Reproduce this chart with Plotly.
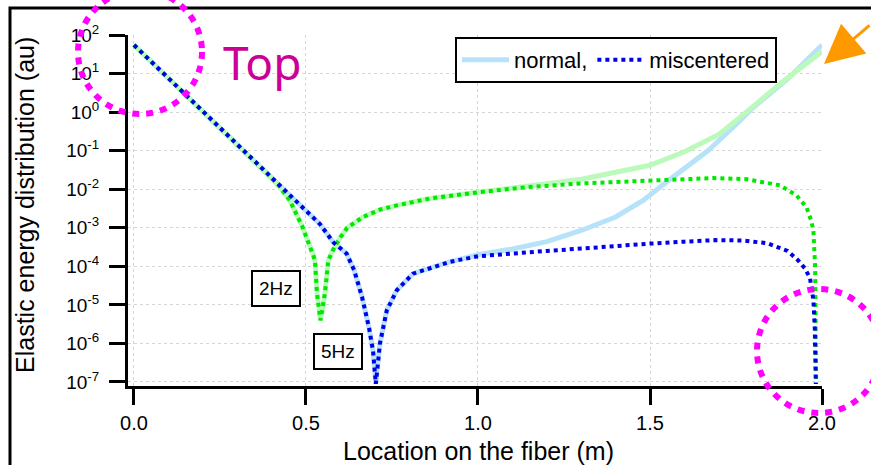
import numpy as np
import plotly.graph_objects as go

# ---- data (y stored as log10 exponents) ----
x_blue_mis = [0.0, 0.1, 0.2, 0.3, 0.4, 0.48, 0.54, 0.58, 0.618, 0.64, 0.663, 0.683, 0.695, 0.703,
              0.71, 0.715, 0.735, 0.764, 0.811, 0.86, 0.92, 1.0, 1.1, 1.2, 1.3, 1.4, 1.5, 1.6,
              1.69, 1.77, 1.84, 1.9, 1.93, 1.95, 1.965, 1.975, 1.979, 1.982]
y_blue_mis_log = [1.74, 0.88, 0.03, -0.83, -1.68, -2.36, -2.90, -3.38, -3.67, -4.10, -4.80, -5.58, -6.20, -7.05,
                  -6.30, -6.00, -5.14, -4.62, -4.19, -4.04, -3.88, -3.74, -3.66, -3.60, -3.54, -3.47, -3.41, -3.36,
                  -3.32, -3.33, -3.40, -3.60, -3.84, -4.05, -4.30, -4.88, -5.6, -7.05]

x_green_mis = [0.0, 0.1, 0.2, 0.3, 0.38, 0.42, 0.453, 0.49, 0.515, 0.526, 0.532, 0.538, 0.542, 0.548,
               0.555, 0.565, 0.58, 0.6, 0.62, 0.666, 0.715, 0.764, 0.86, 1.0, 1.14, 1.3, 1.5, 1.6,
               1.684, 1.78, 1.878, 1.926, 1.955, 1.968, 1.975, 1.98, 1.983]
y_green_mis_log = [1.74, 0.88, 0.03, -0.83, -1.52, -1.90, -2.29, -2.98, -3.55, -3.84, -4.70, -5.10, -5.40, -5.10,
                   -4.70, -3.84, -3.55, -3.25, -3.00, -2.72, -2.53, -2.42, -2.24, -2.08, -1.95, -1.85, -1.77, -1.73,
                   -1.71, -1.74, -1.90, -2.16, -2.47, -2.80, -3.07, -4.03, -7.05]

x_blue_norm = [0.0, 0.1, 0.2, 0.3, 0.4, 0.48, 0.54, 0.58, 0.618, 0.64, 0.663, 0.683, 0.695, 0.703,
               0.71, 0.715, 0.735, 0.764, 0.811, 0.86, 0.92, 1.0, 1.1, 1.2, 1.3, 1.4, 1.48, 1.55,
               1.6, 1.67, 1.75, 1.8, 1.9, 2.0]
y_blue_norm_log = [1.74, 0.88, 0.03, -0.83, -1.68, -2.36, -2.90, -3.38, -3.67, -4.10, -4.80, -5.58, -6.20, -7.05,
                   -6.30, -6.00, -5.14, -4.62, -4.19, -4.04, -3.88, -3.70, -3.55, -3.36, -3.07, -2.72, -2.29, -1.80,
                   -1.45, -0.99, -0.32, 0.12, 0.86, 1.74]

x_green_norm = [0.0, 0.1, 0.2, 0.3, 0.38, 0.42, 0.453, 0.49, 0.515, 0.526, 0.532, 0.538, 0.542, 0.548,
                0.555, 0.565, 0.58, 0.6, 0.62, 0.666, 0.715, 0.764, 0.86, 1.0, 1.1, 1.2, 1.3, 1.4,
                1.5, 1.6, 1.7, 1.78, 1.88, 2.0]
y_green_norm_log = [1.74, 0.88, 0.03, -0.83, -1.52, -1.90, -2.29, -2.98, -3.55, -3.84, -4.70, -5.10, -5.40, -5.10,
                    -4.70, -3.84, -3.55, -3.25, -3.00, -2.72, -2.53, -2.42, -2.24, -2.08, -1.98, -1.86, -1.74, -1.57,
                    -1.38, -1.03, -0.58, 0.00, 0.75, 1.57]

y_tick_exps = [2, 1, 0, -1, -2, -3, -4, -5, -6, -7]
y_tick_labels = ["10<sup>%d</sup>" % e for e in y_tick_exps]
x_tick_vals = [0.0, 0.5, 1.0, 1.5, 2.0]
x_tick_labels = ["0.0", "0.5", "1.0", "1.5", "2.0"]

FONT = "Liberation Sans, Arial, Helvetica, sans-serif"
W, H = 871, 465
L, R, T, B = 128, 49, 35, 79
PW, PH = W - L - R, H - T - B


def px(xp):
    return (xp - L) / PW


def py(yp):
    return (H - B - yp) / PH


fig = go.Figure()
fig.add_trace(go.Scatter(x=x_blue_norm, y=np.power(10.0, y_blue_norm_log), mode="lines",
                         name="normal,", line=dict(color="rgb(182,226,250)", width=5)))
fig.add_trace(go.Scatter(x=x_green_norm, y=np.power(10.0, y_green_norm_log), mode="lines",
                         name="normal 2Hz", showlegend=False,
                         line=dict(color="rgb(188,250,188)", width=5)))
fig.add_trace(go.Scatter(x=x_green_mis, y=np.power(10.0, y_green_mis_log), mode="lines",
                         name="miscentered 2Hz", showlegend=False,
                         line=dict(color="rgb(0,232,0)", width=4, dash="dot")))
fig.add_trace(go.Scatter(x=x_blue_mis, y=np.power(10.0, y_blue_mis_log), mode="lines",
                         name="miscentered", line=dict(color="rgb(0,0,235)", width=4, dash="dot")))

axis_common = dict(showline=True, linewidth=3, linecolor="black", ticks="outside",
                   ticklen=16, tickwidth=3, tickcolor="black", showgrid=True,
                   gridcolor="#d6d6d6", gridwidth=1, griddash="dot", zeroline=False)

fig.update_xaxes(range=[-0.0174, 2.0], tickvals=x_tick_vals, ticktext=x_tick_labels,
                 ticklabelstandoff=1, tickfont=dict(family=FONT, size=20, color="black"),
                 **axis_common)
fig.update_yaxes(type="log", range=[-7.104, 2.0], tickvals=[10.0 ** e for e in y_tick_exps],
                 ticktext=y_tick_labels, ticklabelstandoff=6,
                 tickfont=dict(family=FONT, size=19, color="black"), **axis_common)


def ann(text, xp, yp, size, **kw):
    d = dict(text=text, x=px(xp), y=py(yp), xref="paper", yref="paper", showarrow=False,
             xanchor="center", yanchor="middle", font=dict(family=FONT, size=size, color="black"))
    d.update(kw)
    return d


annotations = [
    ann("Location on the fiber (m)", 478, 451, 25),
    ann("Elastic energy distribution (au)", 25, 205, 25, textangle=-90),
    ann("2Hz", 275.5, 288.5, 19, bordercolor="black", borderwidth=2, borderpad=6, bgcolor="white"),
    ann("5Hz", 338, 351.5, 19, bordercolor="black", borderwidth=2, borderpad=6, bgcolor="white"),
    ann("Top", 262, 62, 46, font=dict(family="Noto Sans, sans-serif", size=46, color="rgb(204,0,150)")),
    dict(text="", x=px(824), y=py(64), xref="paper", yref="paper", showarrow=True,
         ax=55, ay=-40, arrowcolor="rgb(255,153,0)", arrowwidth=3, arrowhead=2, arrowsize=2.6),
]

shapes = [
    dict(type="rect", xref="paper", yref="paper", x0=px(10), x1=px(890), y0=py(480), y1=py(8),
         line=dict(color="black", width=3), layer="above"),
    dict(type="circle", xref="paper", yref="paper", x0=px(78), x1=px(202), y0=py(114), y1=py(-10),
         line=dict(color="#ff00ff", width=6, dash="7px,7px"), layer="above"),
    dict(type="circle", xref="paper", yref="paper", x0=px(757), x1=px(881), y0=py(413), y1=py(289),
         line=dict(color="#ff00ff", width=6, dash="7px,7px"), layer="above"),
]

fig.update_layout(
    width=W, height=H, margin=dict(l=L, r=R, t=T, b=B),
    paper_bgcolor="white", plot_bgcolor="white",
    font=dict(family=FONT, color="black"),
    showlegend=True,
    legend=dict(orientation="h", x=px(455), y=py(37), xanchor="left", yanchor="top",
                bordercolor="black", borderwidth=2, bgcolor="white", itemwidth=47,
                font=dict(family=FONT, size=22, color="black")),
    annotations=annotations, shapes=shapes,
)

fig.write_html("out.html")
